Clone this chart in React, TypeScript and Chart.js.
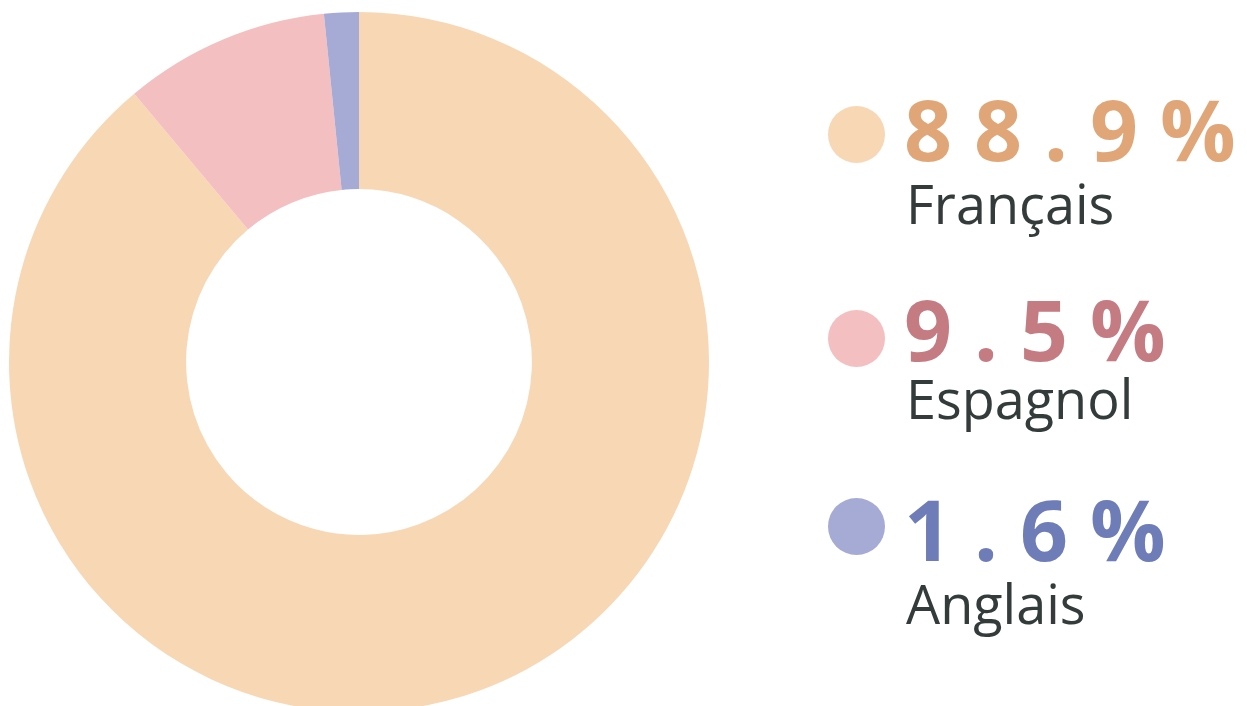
import React, { useEffect, useRef } from "react";
import { Chart, registerables } from "chart.js";

Chart.register(...registerables);

const labels = ["Français", "Espagnol", "Anglais"];
const values = [88.9, 9.5, 1.6];
const valueTexts = ["88.9%", "9.5%", "1.6%"];
const sliceColors = ["#F8D7B5", "#F4BFC0", "#A6ABD6"];
const textColors = ["#E0A677", "#C47B82", "#6E7DB7"];

export default function App() {
  const ref = useRef<HTMLCanvasElement | null>(null);

  useEffect(() => {
    if (!ref.current) return;
    const chart = new Chart(ref.current, {
      type: "doughnut",
      data: {
        labels,
        datasets: [
          {
            data: values,
            backgroundColor: sliceColors,
            borderWidth: 0,
            hoverOffset: 0,
          },
        ],
      },
      options: {
        responsive: true,
        maintainAspectRatio: false,
        animation: false,
        cutout: "49.4%",
        layout: { padding: 0 },
        plugins: {
          legend: { display: false },
          tooltip: { enabled: false },
        },
      },
    });
    return () => chart.destroy();
  }, []);

  const rowTops = [0, 200, 400];

  return (
    <div
      style={{
        position: "fixed",
        left: 0,
        top: 0,
        width: 1247,
        height: 706,
        overflow: "hidden",
        background: "#ffffff",
        fontFamily: "'Open Sans', sans-serif",
      }}
    >
      <div style={{ position: "absolute", left: 8.5, top: 12, width: 700, height: 700 }}>
        <canvas ref={ref} />
      </div>
      {labels.map((lab, i) => (
        <React.Fragment key={lab}>
          <div
            style={{
              position: "absolute",
              left: 828,
              top: 106 + rowTops[i] + (i === 1 ? 4 : i === 2 ? -8 : 0),
              width: 57,
              height: 57,
              borderRadius: "50%",
              background: sliceColors[i],
            }}
          />
          <div
            style={{
              position: "absolute",
              left: 904,
              top: 87.4 + rowTops[i],
              fontSize: 84,
              lineHeight: "84px",
              fontWeight: 700,
              letterSpacing: 22,
              color: textColors[i],
              whiteSpace: "nowrap",
            }}
          >
            {valueTexts[i]}
          </div>
          <div
            style={{
              position: "absolute",
              left: 906,
              top: 175.5 + rowTops[i] - (i === 1 ? 5 : 0),
              fontSize: 54,
              lineHeight: "54px",
              fontWeight: 400,
              color: "#343B3B",
              whiteSpace: "nowrap",
            }}
          >
            {lab}
          </div>
        </React.Fragment>
      ))}
    </div>
  );
}
